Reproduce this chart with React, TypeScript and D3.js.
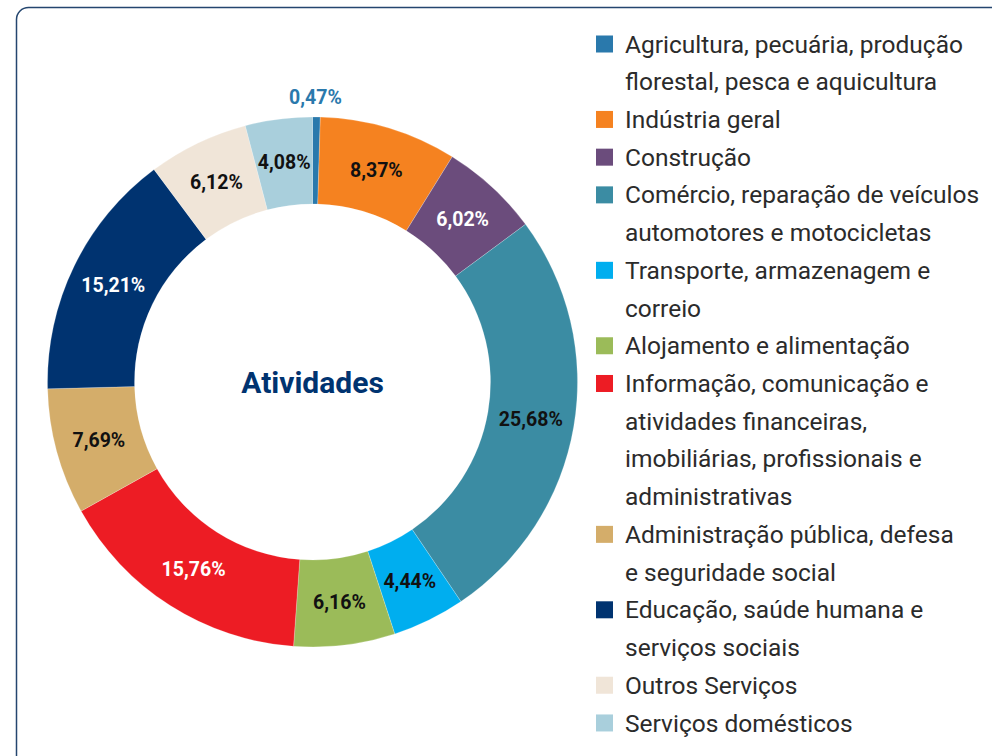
import React, { useEffect, useRef } from 'react';
import * as d3 from 'd3';

// Activity shares (%) - clockwise from 12 o'clock
const categories = [
  'Agricultura',
  'Indústria geral',
  'Construção',
  'Comércio',
  'Transporte',
  'Alojamento',
  'Informação',
  'Administração',
  'Educação',
  'Outros Serviços',
  'Serviços domésticos',
];
const values = [0.47, 8.37, 6.02, 25.68, 4.44, 6.16, 15.76, 7.69, 15.21, 6.12, 4.08];
const colors = [
  '#2a79ac', '#f58220', '#6b4c7c', '#3b8ca3', '#00aeef', '#9bbb59',
  '#ed1c24', '#d4ad6a', '#003370', '#f0e5d8', '#a9cfdc',
];
const labelColors = [
  '#2a79ac', '#111', '#fff', '#111', '#111', '#111', '#fff', '#111', '#fff', '#111', '#111',
];
// legend text, one array of lines per category
const legendLines = [
  ['Agricultura, pecuária, produção', 'florestal, pesca e aquicultura'],
  ['Indústria geral'],
  ['Construção'],
  ['Comércio, reparação de veículos', 'automotores e motocicletas'],
  ['Transporte, armazenagem e', 'correio'],
  ['Alojamento e alimentação'],
  ['Informação, comunicação e', 'atividades financeiras,', 'imobiliárias, profissionais e', 'administrativas'],
  ['Administração pública, defesa', 'e seguridade social'],
  ['Educação, saúde humana e', 'serviços sociais'],
  ['Outros Serviços'],
  ['Serviços domésticos'],
];

const fmt = (v: number) => v.toFixed(2).replace('.', ',') + '%';

const App = () => {
  const ref = useRef<SVGSVGElement>(null);

  useEffect(() => {
    if (!ref.current) return;
    const svg = d3.select(ref.current);
    svg.selectAll('*').remove();

    const cx = 312.5, cy = 382;
    const outerR = 265, innerR = 178;
    const font = 'Roboto, "Noto Sans", sans-serif';

    // frame
    svg.append('rect')
      .attr('x', 16.5).attr('y', 7.5)
      .attr('width', 1000).attr('height', 800)
      .attr('rx', 12)
      .attr('fill', '#fff')
      .attr('stroke', '#24466f')
      .attr('stroke-width', 1.5);

    // one radial gradient per slice: darker near the hole
    const defs = svg.append('defs');
    colors.forEach((c, i) => {
      const gr = defs.append('radialGradient')
        .attr('id', `sliceGrad${i}`)
        .attr('gradientUnits', 'userSpaceOnUse')
        .attr('cx', cx).attr('cy', cy).attr('r', outerR);
      const dark = (t: number) => d3.interpolateRgb(c, '#000')(t);
      [[innerR / outerR, dark(0.45)], [(innerR + 8) / outerR, dark(0.28)],
       [(innerR + 20) / outerR, dark(0.1)], [(innerR + 34) / outerR, c], [1, c]]
        .forEach(([o, col]) => gr.append('stop').attr('offset', o).attr('stop-color', col));
    });

    const pie = d3.pie<number>().sort(null).value(d => d);
    const arcs = pie(values);
    const arc = d3.arc<d3.PieArcDatum<number>>().innerRadius(innerR).outerRadius(outerR);

    // slices (drawn in page coordinates so the gradient centre matches)
    svg.append('g')
      .selectAll('path')
      .data(arcs)
      .join('path')
      .attr('transform', `translate(${cx},${cy})`)
      .attr('d', arc)
      .attr('fill', (_, i) => `url(#sliceGrad${i})`)
      .attr('stroke', 'rgba(255,255,255,0.35)')
      .attr('stroke-width', 0.6);

    const g = svg.append('g').attr('transform', `translate(${cx},${cy})`);

    // labels
    g.selectAll('text.lbl')
      .data(arcs)
      .join('text')
      .attr('class', 'lbl')
      .attr('transform', (d, i) => {
        if (i === 0) return `translate(3,${-outerR - 20})`;
        const [x, y] = arc.centroid(d);
        return `translate(${x},${y})`;
      })
      .attr('text-anchor', 'middle')
      .attr('dy', '0.35em')
      .attr('font-family', font)
      .attr('font-weight', 700)
      .attr('font-size', 19.5)
      .attr('fill', (_, i) => labelColors[i])
      .text((d, i) => fmt(values[i]));

    g.append('text')
      .attr('text-anchor', 'middle')
      .attr('dy', '0.35em')
      .attr('font-family', font)
      .attr('font-weight', 700)
      .attr('font-size', 30)
      .attr('fill', '#003370')
      .text('Atividades');

    // legend
    const lineH = 37.72;
    const top = 44;
    const lg = svg.append('g');
    let line = 0;
    legendLines.forEach((lines, i) => {
      const y0 = top + line * lineH;
      lg.append('rect')
        .attr('x', 596).attr('y', y0 - 8.5)
        .attr('width', 17).attr('height', 17)
        .attr('fill', colors[i]);
      lines.forEach((t, j) => {
        lg.append('text')
          .attr('x', 625)
          .attr('y', y0 + j * lineH)
          .attr('dy', '0.35em')
          .attr('font-family', font)
          .attr('font-size', 24.5)
          .attr('fill', '#2b2b2b')
          .text(t);
      });
      line += lines.length;
    });
  }, []);

  return (
    <svg ref={ref} width={992} height={756}
      style={{ position: 'absolute', left: 0, top: 0, display: 'block' }} />
  );
};

export default App;
